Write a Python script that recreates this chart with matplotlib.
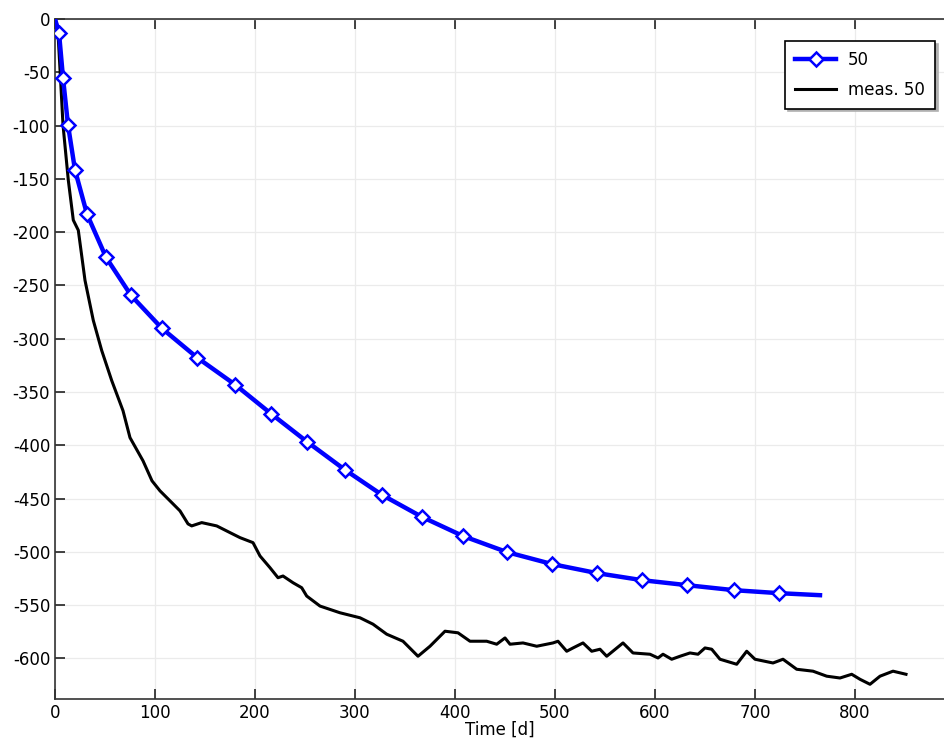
import numpy as np
import matplotlib
matplotlib.use("Agg")
import matplotlib.pyplot as plt

plt.rcParams['font.family'] = ['DejaVu Sans']
plt.rcParams['axes.unicode_minus'] = False

# Simulated curve "50" (line points, markers on all but the first and last)
sim_t = [0, 4, 8, 13, 20, 32, 51, 76, 107, 142, 180, 216, 252, 290, 327,
         367, 408, 452, 497, 542, 587, 632, 679, 724, 765]
sim_v = [0, -12.9, -55.2, -99.4, -141.7, -183.1, -223.6, -259.3, -290.3,
         -317.6, -343.0, -370.3, -396.6, -423.0, -446.5, -467.2, -485.1,
         -500.2, -511.4, -519.9, -526.5, -531.2, -535.9, -538.7, -540.6]

# Measured curve "meas. 50"
meas_t = [0.5, 2.7, 5.7, 8, 13.3, 18.3, 23.3, 30, 38.3, 46.7, 56.7, 68, 75,
          88, 97, 105, 118, 125, 133, 136.7, 146.7, 161.7, 175, 185, 198,
          205, 215, 223, 228, 238, 246.7, 251.7, 265, 285, 305, 318, 331.7,
          348, 363, 375, 390, 403, 415, 431.7, 441.7, 450, 455, 468, 481.7,
          498, 503, 511.7, 518, 528, 536.7, 545, 551.7, 568, 578, 595, 603,
          608, 616.7, 625, 635, 643, 650, 656.7, 665, 681.7, 691.7, 700, 718,
          728, 741.7, 758, 771.7, 785, 796.7, 805, 815, 825, 838, 851]
meas_v = [-1, -8.2, -59.0, -99.4, -151.2, -188.7, -198.2, -245.2, -282.8,
          -311.0, -339.2, -367.5, -392.8, -414.5, -433.3, -442.7, -454.9,
          -461.5, -473.7, -475.6, -472.5, -475.6, -481.9, -486.6, -491.3,
          -503.8, -514.8, -524.2, -522.6, -528.9, -533.6, -541.4, -550.8,
          -557.1, -561.8, -567.8, -577.2, -583.8, -597.9, -588.5, -574.4,
          -575.9, -583.8, -583.8, -586.6, -580.7, -586.6, -585.4, -588.5,
          -585.4, -583.8, -593.2, -590.1, -585.4, -593.2, -591.3, -597.9,
          -585.4, -594.8, -596.0, -599.5, -596.0, -600.7, -597.9, -594.8,
          -596.0, -590.1, -591.3, -600.7, -605.4, -593.2, -600.7, -604.2,
          -600.7, -610.1, -611.9, -616.6, -618.3, -614.8, -619.5, -624.2,
          -616.6, -611.9, -614.8]

fig = plt.figure(figsize=(9.45, 7.4), dpi=100)
ax = fig.add_axes([55 / 945, 1 - 699 / 740, 890 / 945, (699 - 19) / 740])

ax.plot(sim_t, sim_v, color='#0000ff', linewidth=3.2, marker='D',
        markersize=7, markerfacecolor='white', markeredgecolor='#0000ff',
        markeredgewidth=1.8, markevery=list(range(1, len(sim_t) - 1)),
        label='50', zorder=3)
ax.plot(meas_t, meas_v, color='black', linewidth=2.2, label='meas. 50',
        zorder=2)

ax.set_xlim(0, 890)
ax.set_ylim(-638, 0)
ax.set_xticks(np.arange(0, 801, 100))
ax.set_yticks(np.arange(-600, 1, 50))
ax.grid(True, color='#ebebeb', linewidth=0.9)
ax.set_axisbelow(True)
ax.tick_params(direction='in', length=7, width=1.2, labelsize=12,
               top=True, right=False, colors='#222222', labelcolor='black')
ax.spines['right'].set_visible(False)
for s in ['left', 'bottom', 'top']:
    ax.spines[s].set_color('#333333')
    ax.spines[s].set_linewidth(1.2)
ax.set_xlabel('Time [d]', fontsize=12, labelpad=-1)

leg = ax.legend(loc='upper right', bbox_to_anchor=(935 / 945, 1 - 41 / 740),
                bbox_transform=fig.transFigure, borderaxespad=0,
                fancybox=False, shadow={'color': '#b0b0b0', 'alpha': 1},
                fontsize=12, handlelength=2.5, handletextpad=0.7,
                borderpad=0.6, labelspacing=0.7,
                framealpha=1, edgecolor='black')
leg.get_frame().set_linewidth(1.2)

fig.savefig('out.png', dpi=100)
